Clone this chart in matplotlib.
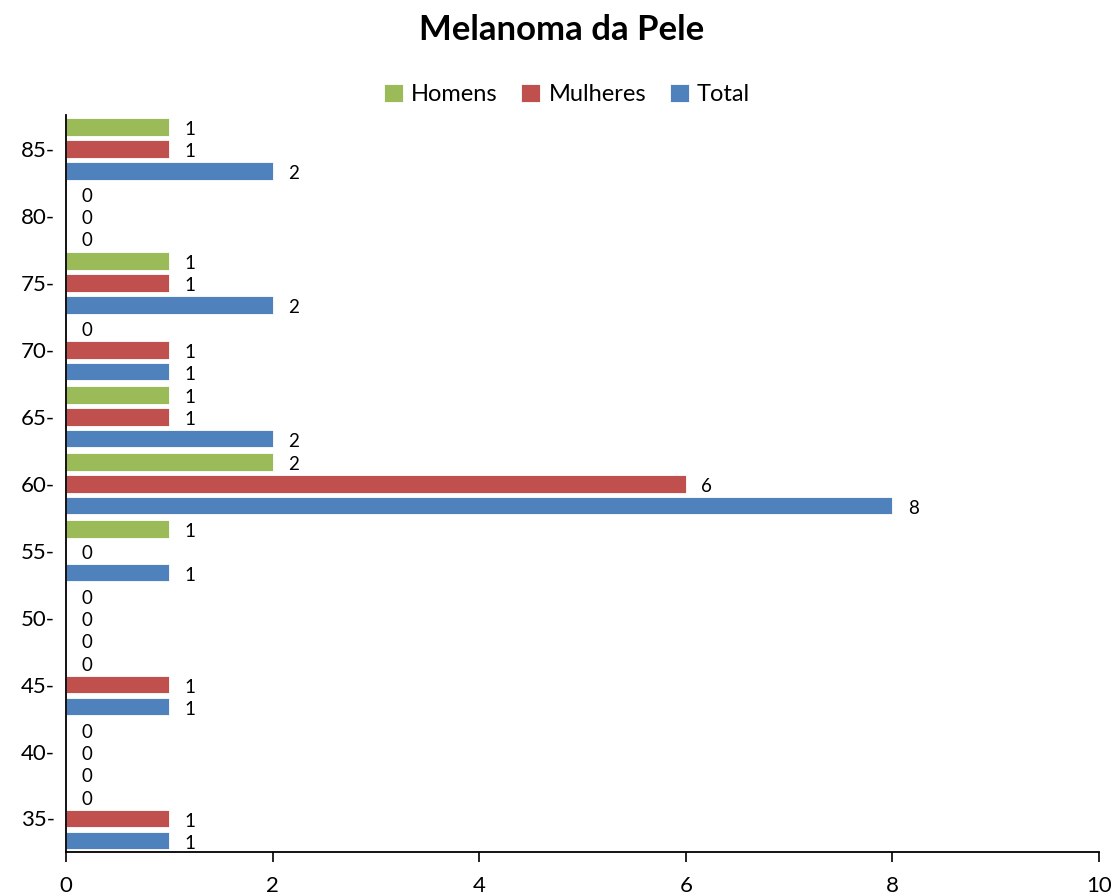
import matplotlib
matplotlib.use("Agg")
import matplotlib.pyplot as plt
import numpy as np

plt.rcParams['font.family'] = ['Lato', 'DejaVu Sans']

categories = ["35-", "40-", "45-", "50-", "55-", "60-", "65-", "70-", "75-", "80-", "85-"]
homens   = [0, 0, 0, 0, 1, 2, 1, 0, 1, 0, 1]
mulheres = [1, 0, 1, 0, 0, 6, 1, 1, 1, 0, 1]
total    = [1, 0, 1, 0, 1, 8, 2, 1, 2, 0, 2]
series = [("Homens", homens, "#9BBB59"), ("Mulheres", mulheres, "#C0504D"), ("Total", total, "#4F81BD")]

fig = plt.figure(figsize=(11.14, 8.94), dpi=100)
ax = fig.add_axes([0.0592, 0.047, 0.9273, 0.824])

y = np.arange(len(categories))
slot = 0.327
offsets = [slot, 0, -slot]
bh = 0.265
handles = []
for (name, vals, col), off in zip(series, offsets):
    b = ax.barh(y + off, vals, height=bh, color=col, edgecolor="white", linewidth=0.6, label=name)
    handles.append(b)
    for yi, v in zip(y + off, vals):
        ax.text(v + 0.15, yi - 0.045, str(v), ha="left", va="center", fontsize=13.5)

ax.set_xlim(0, 10)
ax.set_ylim(-0.5, 10.5)
ax.set_xticks(np.arange(0, 11, 2))
ax.set_yticks(y)
ax.set_yticklabels(categories)
ax.tick_params(axis="x", direction="out", length=7, width=1.2, labelsize=16, pad=10)
ax.tick_params(axis="y", length=0, labelsize=16, pad=8)
for s in ["top", "right"]:
    ax.spines[s].set_visible(False)
for s in ["left", "bottom"]:
    ax.spines[s].set_linewidth(1.3)

fig.text(0.504, 0.966, "Melanoma da Pele", ha="center", va="center", fontsize=25, fontweight="bold")
fig.legend(handles=handles, loc="center", bbox_to_anchor=(0.509, 0.894), ncol=3, frameon=False,
           fontsize=17, handlelength=0.8, handleheight=0.8, handletextpad=0.35, columnspacing=1.0)

fig.savefig("out.png", dpi=100)
